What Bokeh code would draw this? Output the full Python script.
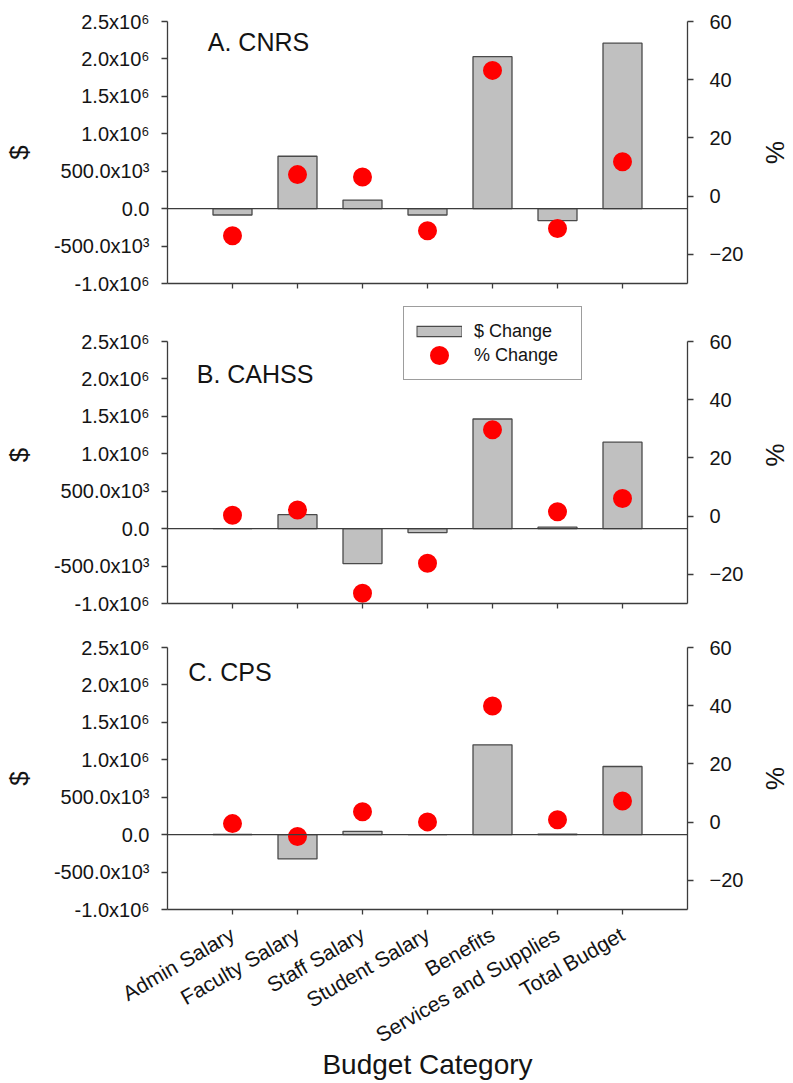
import math

from bokeh.embed import file_html
from bokeh.layouts import column
from bokeh.models import (ColumnDataSource, FixedTicker, Label, Legend,
                          LegendItem, LinearAxis, Range1d, Span)
from bokeh.plotting import figure
from bokeh.resources import INLINE

# ---- data -------------------------------------------------------------
categories = ["Admin Salary", "Faculty Salary", "Staff Salary", "Student Salary",
              "Benefits", "Services and Supplies", "Total Budget"]

cnrs_dollar = [-85e3, 700e3, 115e3, -85e3, 2.03e6, -160e3, 2.21e6]
cnrs_pct = [-13.6, 7.4, 6.6, -11.9, 43.2, -11.1, 11.8]

cahss_dollar = [0.0, 187e3, -467e3, -53e3, 1.465e6, 20e3, 1.155e6]
cahss_pct = [0.3, 2.1, -26.5, -16.2, 29.7, 1.5, 6.1]

cps_dollar = [3e3, -324e3, 44e3, 0.0, 1.2e6, 8e3, 0.91e6]
cps_pct = [-0.5, -4.9, 3.6, 0.1, 39.9, 0.8, 7.3]

dollar_ticks = [-1e6, -5e5, 0, 5e5, 1e6, 1.5e6, 2e6, 2.5e6]
dollar_tick_labels = ["-1.0x10\u2076", "-500.0x10\u00b3", "0.0", "500.0x10\u00b3",
                      "1.0x10\u2076", "1.5x10\u2076", "2.0x10\u2076", "2.5x10\u2076"]
pct_ticks = [-20, 0, 20, 40, 60]

DOLLAR_MIN, DOLLAR_MAX = -1e6, 2.5e6
PCT_MIN, PCT_MAX = -30, 60

# ---- styling ------------------------------------------------------------
FONT = "Liberation Sans"
INK = "#141414"
AXIS = "#3c3c3c"
BAR_FILL = "#c0c0c0"
BAR_LINE = "#4a4a4a"
DOT = "#ff0000"
FIG_W = 793
AXIS_PX = 262          # pixel height of each value axis
DOT_CORE, DOT_RIM = 8, 11   # marker size + outline width -> 19 px disc


def style_axis(ax, size="20px"):
    ax.axis_line_color = AXIS
    ax.axis_line_width = 1.3
    ax.major_tick_line_color = AXIS
    ax.major_tick_line_width = 1.3
    ax.major_tick_in = 0
    ax.major_tick_out = 6
    ax.minor_tick_line_color = None
    ax.major_label_text_font = FONT
    ax.major_label_text_font_size = size
    ax.major_label_text_color = INK
    ax.axis_label_text_font = FONT
    ax.axis_label_text_font_style = "normal"
    ax.axis_label_text_color = INK


def make_panel(title, dollars, pcts, height, border_top, border_bottom,
               title_x, title_y, show_categories, headroom=0):
    """One panel; `headroom` adds blank pixels above the axes (room for a legend)."""
    x = list(range(1, len(categories) + 1))
    src = ColumnDataSource(dict(x=x, dollars=dollars, pcts=pcts))

    d_top = DOLLAR_MAX + headroom * (DOLLAR_MAX - DOLLAR_MIN) / AXIS_PX
    p_top = PCT_MAX + headroom * (PCT_MAX - PCT_MIN) / AXIS_PX

    p = figure(width=FIG_W, height=height, title=None,
               x_range=Range1d(0, 8), y_range=Range1d(DOLLAR_MIN, d_top),
               output_backend="svg", toolbar_location=None, tools="",
               min_border_left=167, min_border_right=FIG_W - 698,
               min_border_top=border_top, min_border_bottom=border_bottom)
    p.extra_y_ranges = {"pct": Range1d(PCT_MIN, p_top)}
    p.outline_line_color = None
    p.xgrid.visible = False
    p.ygrid.visible = False
    p.background_fill_color = "white"
    p.border_fill_color = "white"

    # left ($) axis
    ya = p.yaxis[0]
    ya.ticker = FixedTicker(ticks=dollar_ticks)
    ya.bounds = (DOLLAR_MIN, DOLLAR_MAX)
    ya.major_label_overrides = {float(t): lab for t, lab in zip(dollar_ticks, dollar_tick_labels)}
    ya.axis_label = "$"
    style_axis(ya)
    ya.axis_label_text_font_size = "26px"
    ya.axis_label_standoff = 17
    ya.major_label_standoff = 12

    # right (%) axis
    ra = LinearAxis(y_range_name="pct", ticker=FixedTicker(ticks=pct_ticks),
                    bounds=(PCT_MIN, PCT_MAX), axis_label="%")
    style_axis(ra)
    ra.axis_label_text_font_size = "26px"
    ra.major_label_standoff = 16
    ra.axis_label_standoff = 14
    p.add_layout(ra, "right")

    # category axis
    xa = p.xaxis[0]
    xa.ticker = FixedTicker(ticks=x)
    style_axis(xa, "21px")
    xa.major_tick_out = 5
    if show_categories:
        xa.major_label_overrides = {i: c for i, c in zip(x, categories)}
        xa.major_label_orientation = math.pi / 6
        xa.major_label_standoff = 18
        xa.axis_label = "Budget Category"
        xa.axis_label_text_font_size = "28px"
        xa.axis_label_standoff = -10
    else:
        xa.major_label_text_color = None
        xa.major_label_standoff = 0

    # zero line for the dollar scale
    p.add_layout(Span(location=0, dimension="width", line_color=AXIS,
                      line_width=1.3))

    bars = p.vbar(x="x", top="dollars", bottom=0, width=0.6, source=src,
                  fill_color=BAR_FILL, line_color=BAR_LINE, line_width=1.3)
    dots = p.scatter(x="x", y="pcts", source=src, y_range_name="pct",
                     marker="circle", size=DOT_CORE,
                     fill_color=DOT, line_color=DOT, line_width=DOT_RIM)

    p.add_layout(Label(x=title_x, y=title_y, text=title, text_font=FONT,
                       text_font_size="25px", text_color=INK,
                       text_baseline="alphabetic"))
    return p, src, bars, dots


p1, _, _, _ = make_panel("A. CNRS", cnrs_dollar, cnrs_pct, 303, 21, 20,
                         0.62, 2.22e6, False)
p2, src2, bars2, dots2 = make_panel("B. CAHSS", cahss_dollar, cahss_pct, 320, 3, 20,
                                    0.45, 2.07e6, False, headroom=35)
p3, _, _, _ = make_panel("C. CPS", cps_dollar, cps_pct, 460, 24, 174,
                         0.32, 2.17e6, True)

# legend key for the bars: a thin outlined swatch built from two hidden strokes
key_edge = p2.line(x="x", y="dollars", source=src2, line_color=BAR_LINE,
                   line_width=11.6, visible=False)
key_fill = p2.line(x="x", y="dollars", source=src2, line_color=BAR_FILL,
                   line_width=9, line_dash="0 1 44 100", visible=False)

legend = Legend(items=[LegendItem(label="$ Change", renderers=[key_edge, key_fill]),
                       LegendItem(label="% Change", renderers=[dots2])],
                location=(236, 223), glyph_width=46, glyph_height=20,
                label_text_font=FONT, label_text_font_size="18px",
                label_text_color=INK, label_height=24, label_width=95,
                label_standoff=12, spacing=0, padding=12, margin=0,
                border_line_color=AXIS, border_line_width=1.3,
                inactive_fill_alpha=0.0,
                background_fill_color="white", background_fill_alpha=1.0)
p2.add_layout(legend)

layout = column(p1, p2, p3, spacing=0)

with open("out.html", "w") as f:
    f.write(file_html(layout, INLINE))
